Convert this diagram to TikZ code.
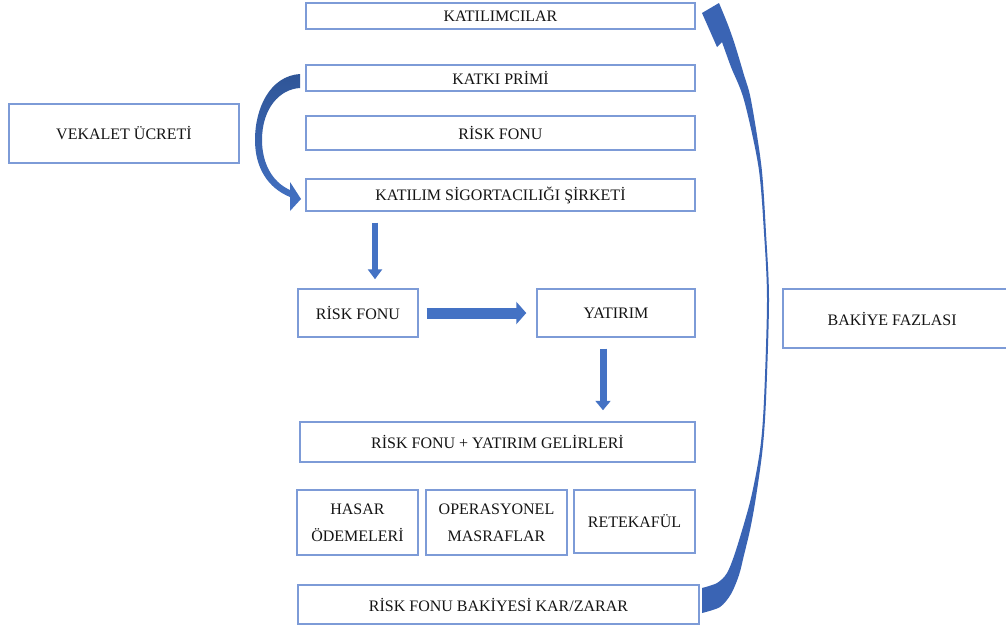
\documentclass[tikz,border=0pt]{standalone}
\usepackage{fontspec}
\setmainfont{Liberation Serif}
\usetikzlibrary{arrows.meta,calc}
\definecolor{boxline}{RGB}{125,155,215}
\definecolor{ablue}{RGB}{68,114,196}
\definecolor{adark}{RGB}{47,85,151}
\definecolor{amid}{RGB}{58,100,180}
\definecolor{txt}{RGB}{20,20,20}
\begin{document}
\begin{tikzpicture}[x=0.75pt,y=-0.75pt,
  box/.style={draw=boxline,line width=1.1pt,fill=white,inner sep=0pt,text=txt,
    font=\fontsize{12}{20.5}\selectfont,align=center},
  vdownA/.style={ablue,line width=4.5pt,-{Triangle[width=10.5pt,length=7.5pt]}},
  vdownB/.style={ablue,line width=5.25pt,-{Triangle[width=11pt,length=7pt]}},
  hright/.style={ablue,line width=8.25pt,-{Triangle[width=16.5pt,length=7.5pt]}}]
\clip (0,0) rectangle (1006,628);
\fill[white] (0,0) rectangle (1006,628);

\node[box,minimum width=291.75pt,minimum height=19.5pt] (kat) at (500.5,16) {KATILIMCILAR};
\node[box,minimum width=291.75pt,minimum height=19.5pt] (katki) at (500.5,78) {KATKI PRİMİ};
\node[box,minimum width=291.75pt,minimum height=25.5pt] (rf1) at (500.5,133) {RİSK FONU};
\node[box,minimum width=291.75pt,minimum height=24pt] (sirket) at (500.5,195) {KATILIM SİGORTACILIĞI ŞİRKETİ};
\node[box,minimum width=172.5pt,minimum height=44.25pt] (vek) at (124,133.5) {VEKALET ÜCRETİ};
\node[box,minimum width=90pt,minimum height=36pt] (rf2) at (358,313) {RİSK FONU};
\node[box,minimum width=118.5pt,minimum height=36pt] (yat) at (616,313) {YATIRIM};
\node[box,minimum width=296.25pt,minimum height=30pt] (gel) at (497.5,442) {RİSK FONU + YATIRIM GELİRLERİ};
\node[box,minimum width=90.75pt,minimum height=48.75pt] (has) at (357.5,522.5) {HASAR\\ÖDEMELERİ};
\node[box,minimum width=105.75pt,minimum height=48.75pt] (ope) at (496.5,522.5) {OPERASYONEL\\MASRAFLAR};
\node[box,minimum width=90.75pt,minimum height=47.25pt] (ret) at (634.5,521.5) {RETEKAFÜL};
\node[box,minimum width=300.75pt,minimum height=29.25pt] (bak) at (498.5,604.5) {RİSK FONU BAKİYESİ KAR/ZARAR};
\node[box,minimum width=171.75pt,minimum height=44.25pt] (faz) at (897.5,318.5) {BAKİYE FAZLASI\hspace*{8pt}};

% straight block arrows
\draw[vdownA] ($(sirket.south -| rf2.north)+(17,11)$) -- ($(rf2.north)+(17,-9)$);
\draw[hright] ($(rf2.east)+(8,0)$) -- ($(yat.west)+(-10,0)$);
\draw[vdownB] ($(yat.south)+(-13,11)$) -- ($(gel.north -| yat.south)+(-13,-11)$);

% left curved arrow (KATKI PRIMI -> SIRKET)
\shade[top color=adark,bottom color=ablue]
  (300,74) .. controls (270,76) and (255,108) .. (255,140)
  .. controls (255,168) and (268,188) .. (290,197)
  -- (290,211) -- (301,199) -- (290,182) -- (290,190)
  .. controls (272,182) and (262,163) .. (262,140)
  .. controls (262,108) and (280,89) .. (300,88) -- cycle;

% right curved arrow (KAR/ZARAR -> KATILIMCILAR)
\fill[amid]
  plot[smooth] coordinates {(702,613) (720,607) (731,594) (739,575) (744,555) (750,530)
    (755.5,500) (762.5,450) (766,400) (769,300) (766,233) (761.5,167) (751,100)
    (744,75) (735,45) (728,25) (719,3)}
  -- (702,13) -- (717,47) -- (722,42)
  -- plot[smooth] coordinates {(722,42) (731,67) (744,100) (758.5,167) (764,233)
    (767,300) (764,400) (760,450) (750.5,500) (736,550) (727,573) (717,583) (702,588)}
  -- cycle;
\end{tikzpicture}
\end{document}
